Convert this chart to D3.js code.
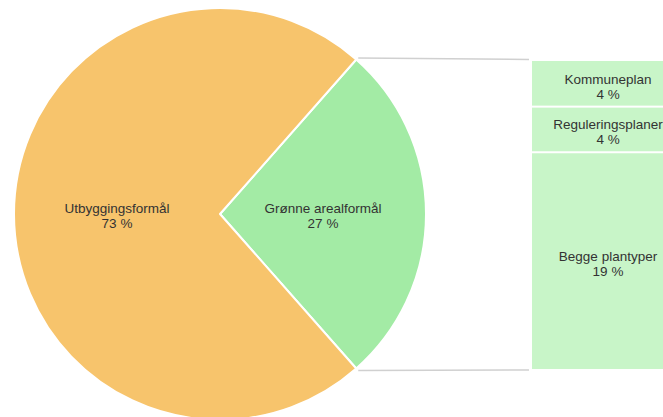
<!DOCTYPE html>
<html>
<head>
<meta charset="utf-8">
<script src="https://cdn.jsdelivr.net/npm/d3@7"></script>
<style>
  html, body { margin: 0; padding: 0; background: #fff; overflow: hidden; }
  text { font-family: "Liberation Sans", Arial, sans-serif; font-size: 13.5px; fill: #333; }
</style>
</head>
<body>
<script>
// pie data
var pieLabels = ["Grønne arealformål", "Utbyggingsformål"];
var pieValues = [27, 73];
var pieColors = ["#a3eba5", "#f7c46c"];

// breakdown of the green slice
var barLabels = ["Kommuneplan", "Reguleringsplaner", "Begge plantyper"];
var barValues = [4, 4, 19];
var barColor = "#c8f5c8";

var w = 663, h = 417;
var cx = 220, cy = 214, r = 206;

var svg = d3.select("body")
    .append("svg")
    .attr("width", w)
    .attr("height", h);

// green slice centred at 3 o'clock
var greenShare = pieValues[0] / d3.sum(pieValues);
var a0 = Math.PI / 2 - greenShare * Math.PI;

var pie = d3.pie()
    .sort(null)
    .startAngle(a0)
    .endAngle(a0 + 2 * Math.PI);

var arc = d3.arc().innerRadius(0).outerRadius(r);

var arcs = pie(pieValues);

var g = svg.append("g")
    .attr("transform", "translate(" + cx + "," + cy + ")");

g.selectAll("path")
    .data(arcs)
    .enter()
    .append("path")
    .attr("d", arc)
    .attr("fill", function(d, i) { return pieColors[i]; })
    .attr("stroke", "#fff")
    .attr("stroke-width", 2)
    .attr("stroke-linejoin", "round");

// labels at half radius along the middle of each slice
var labelArc = d3.arc().innerRadius(r / 2).outerRadius(r / 2);
var pieText = g.selectAll("text.pl")
    .data(arcs)
    .enter()
    .append("text")
    .attr("class", "pl")
    .attr("text-anchor", "middle")
    .attr("transform", function(d) {
        var c = labelArc.centroid(d);
        return "translate(" + c[0] + "," + (c[1] - 1) + ")";
    });
pieText.append("tspan").attr("x", 0).attr("dy", 0).text(function(d, i) { return pieLabels[i]; });
pieText.append("tspan").attr("x", 0).attr("dy", 15).text(function(d, i) { return pieValues[i] + " %"; });

// stacked bar on the right
var barX = 532, barW = 152;
var yScale = d3.scaleLinear()
    .domain([0, d3.sum(barValues)])
    .range([61, 369]);

var cum = [0];
barValues.forEach(function(v, i) { cum.push(cum[i] + v); });

var gap = 1;
var segs = svg.selectAll("g.seg")
    .data(barValues)
    .enter()
    .append("g")
    .attr("class", "seg");

segs.append("rect")
    .attr("x", barX)
    .attr("y", function(d, i) { return yScale(cum[i]) + (i > 0 ? gap : 0); })
    .attr("width", barW)
    .attr("height", function(d, i) {
        var top = yScale(cum[i]) + (i > 0 ? gap : 0);
        var bot = yScale(cum[i + 1]) - (i < barValues.length - 1 ? gap : 0);
        return bot - top;
    })
    .attr("fill", barColor);

var segText = segs.append("text")
    .attr("text-anchor", "middle")
    .attr("transform", function(d, i) {
        var mid = (yScale(cum[i]) + yScale(cum[i + 1])) / 2;
        return "translate(" + (barX + barW / 2) + "," + mid + ")";
    });
segText.append("tspan").attr("x", 0).attr("dy", 0).text(function(d, i) { return barLabels[i]; });
segText.append("tspan").attr("x", 0).attr("dy", 15).text(function(d) { return d + " %"; });

// connector lines from the green slice edges to the bar
var greenArc = arcs[0];
function edgePoint(a) {
    return [cx + r * Math.sin(a), cy - r * Math.cos(a)];
}
var p1 = edgePoint(greenArc.startAngle);
var p2 = edgePoint(greenArc.endAngle);

svg.append("line")
    .attr("x1", p1[0] + 2).attr("y1", p1[1] - 1.5)
    .attr("x2", barX - 3).attr("y2", yScale(0) - 1.5)
    .attr("stroke", "#d0d0d0")
    .attr("stroke-width", 1.5);

svg.append("line")
    .attr("x1", p2[0] + 2).attr("y1", p2[1] + 2)
    .attr("x2", barX - 3).attr("y2", yScale(d3.sum(barValues)) + 1)
    .attr("stroke", "#d0d0d0")
    .attr("stroke-width", 1.5);
</script>
</body>
</html>
